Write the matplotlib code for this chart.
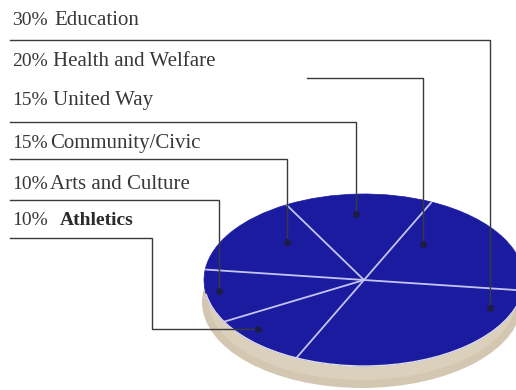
import matplotlib
matplotlib.use("Agg")
import numpy as np
import matplotlib.pyplot as plt
from matplotlib.patches import Ellipse, Arc
from matplotlib.transforms import Affine2D

# Donation breakdown (percent), drawn counter-clockwise from the start angle
categories = ["Health and Welfare", "United Way", "Community/Civic",
              "Arts and Culture", "Athletics", "Education"]
shares = [20, 15, 15, 10, 10, 30]
pct_labels = ["20%", "15%", "15%", "10%", "10%", "30%"]

# Legend rows, top to bottom
row_order = ["Education", "Health and Welfare", "United Way",
             "Community/Civic", "Arts and Culture", "Athletics"]

W, H = 516, 390
fig = plt.figure(figsize=(W / 100, H / 100), dpi=100)
ax = fig.add_axes([0, 0, 1, 1])

# Tilted disc geometry (pixel space)
cx, cy = 364, 280
a, b = 160, 86
tilt = Affine2D().translate(-cx, -cy).scale(1, -b / a).translate(cx, cy)

# Drop shadow under the disc
ax.add_patch(Ellipse((cx - 2, cy + 22), 2 * a, 2 * b, facecolor="#d3c7b2",
                     edgecolor="none", zorder=1))
ax.add_patch(Ellipse((cx - 2, cy + 19), 2 * a - 12, 2 * b - 10,
                     facecolor="#dbd0bc", edgecolor="none", zorder=1.1))

disc_blue = "#1b1ba0"
wedges, _ = ax.pie(shares, startangle=-7, counterclock=True, radius=a,
                   center=(cx, cy), colors=[disc_blue] * len(shares),
                   wedgeprops=dict(edgecolor=disc_blue, linewidth=0.5),
                   frame=True)
for w in wedges:
    w.set_transform(tilt + ax.transData)
    w.set_zorder(2)

# Light separators between wedges
for w in wedges:
    th = np.deg2rad(w.theta1)
    ax.plot([cx, cx + a * np.cos(th)], [cy, cy - b * np.sin(th)],
            color="#c4c4f2", lw=1.3, zorder=3, solid_capstyle="butt")

# Pale rim along the front edge of the disc
ax.add_patch(Arc((cx, cy), 2 * a, 2 * b, theta1=5, theta2=175,
                 edgecolor="#dcdcee", lw=1.0, zorder=3))

ax.set_xlim(0, W)
ax.set_ylim(H, 0)
ax.set_aspect("auto")
ax.axis("off")

# Anchor of each leader inside its wedge: (fraction along arc, radius fraction)
anchor = {
    "Health and Welfare": (0.77, 0.56),
    "United Way": (0.53, 0.77),
    "Community/Civic": (0.34, 0.65),
    "Arts and Culture": (0.42, 0.915),
    "Athletics": (0.33, 0.874),
    "Education": (0.86, 0.852),
}

def dot_position(name):
    w = wedges[categories.index(name)]
    f, r = anchor[name]
    th = np.deg2rad(w.theta1 + f * (w.theta2 - w.theta1))
    return cx + a * r * np.cos(th), cy - b * r * np.sin(th)

# Legend rows: text baseline y, underline y, label x, line start x
row_base_y = [25, 66, 105, 148, 189, 225]
row_line_y = [40, 78, 122, 159, 200, 238]
label_x = [54, 53, 53, 50, 50, 60]
line_start = [10, 307, 10, 10, 10, 10]

serif = "Liberation Serif"
line_col = "#3a3a3a"
for i, name in enumerate(row_order):
    pct = pct_labels[categories.index(name)]
    bold = name == "Athletics"
    ax.text(12, row_base_y[i], pct, fontsize=14, family=serif,
            color="#383838", va="baseline", ha="left", zorder=5)
    ax.text(label_x[i], row_base_y[i], name, fontsize=14 if bold else 15,
            family=serif, color="#2a2a2a" if bold else "#383838",
            fontweight="bold" if bold else "normal",
            va="baseline", ha="left", zorder=5)

    dx, dy = dot_position(name)
    ly = row_line_y[i]
    if name == "Athletics":
        xs = [line_start[i], 152, 152, dx]
        ys = [ly, ly, dy, dy]
    else:
        xs = [line_start[i], dx, dx]
        ys = [ly, ly, dy]
    ax.plot(xs, ys, color=line_col, lw=1.0, zorder=4,
            solid_joinstyle="miter")
    ax.plot([dx], [dy], marker="o", markersize=5, color="#1c1c44",
            markeredgewidth=0, zorder=6)

fig.savefig("out.png", dpi=100)
